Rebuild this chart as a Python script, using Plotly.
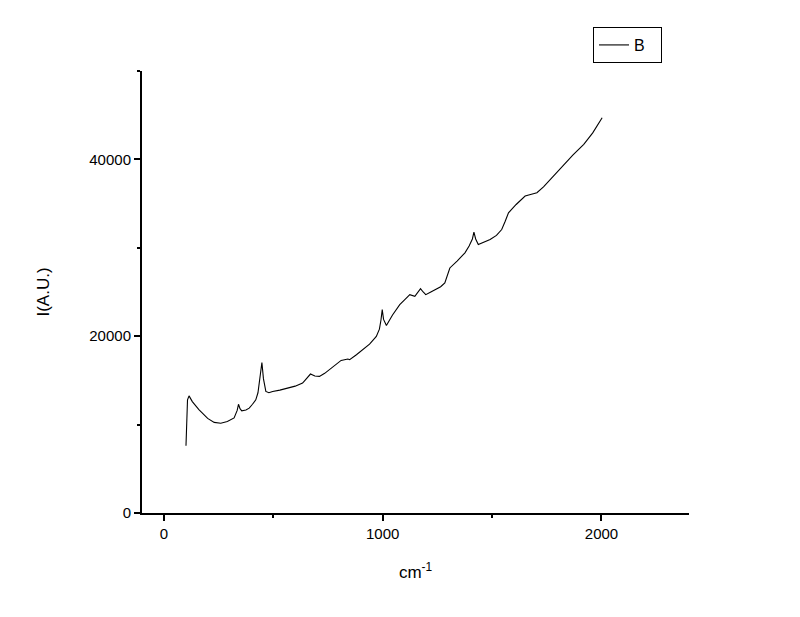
import plotly.graph_objects as go

wavenumber = [101, 104, 108, 115, 130, 160, 200, 230, 260, 290, 321, 335, 341, 348, 356, 375, 390, 405, 420,
              430, 440, 448, 455, 466, 480, 497, 530, 573, 600, 634, 655, 670, 690, 711, 735, 757, 785, 810,
              841, 849, 880, 910, 940, 971, 985, 992, 998, 1004, 1017, 1045, 1078, 1100, 1124, 1147, 1160,
              1173, 1185, 1197, 1220, 1246, 1265, 1284, 1307, 1340, 1376, 1395, 1410, 1417, 1425, 1437, 1460,
              1491, 1520, 1544, 1560, 1575, 1610, 1651, 1680, 1705, 1735, 1766, 1800, 1827, 1870, 1919, 1960,
              2003]
intensity = [7600, 10500, 12800, 13250, 12600, 11700, 10700, 10250, 10160, 10350, 10760, 11600, 12300, 11800,
             11560, 11650, 11860, 12300, 12800, 13600, 15200, 17030, 15200, 13750, 13600, 13750, 13900, 14130,
             14350, 14700, 15300, 15720, 15500, 15450, 15800, 16200, 16700, 17260, 17420, 17340, 17900, 18470,
             19100, 19980, 20800, 21800, 23000, 21900, 21220, 22400, 23570, 24100, 24700, 24510, 24900, 25380,
             25000, 24700, 25000, 25350, 25600, 26030, 27720, 28500, 29430, 30200, 31000, 31770, 31000, 30370,
             30600, 30930, 31400, 32070, 33000, 33960, 34900, 35850, 36050, 36230, 36900, 37730, 38600, 39430,
             40500, 41700, 43000, 44720]

fig = go.Figure()
fig.add_trace(go.Scatter(x=wavenumber, y=intensity, mode="lines", name="B",
                         line=dict(color="black", width=1.1)))

font = dict(family="Arial, Liberation Sans, sans-serif", size=15, color="black")

fig.update_layout(
    width=800, height=617,
    margin=dict(l=134, r=119, t=63, b=112, autoexpand=False),
    paper_bgcolor="white", plot_bgcolor="white",
    font=font,
    showlegend=True,
    legend=dict(x=0.8245, y=1.0995, xanchor="left", yanchor="top", orientation="h",
                entrywidth=22, entrywidthmode="pixels",
                bordercolor="black", borderwidth=1, bgcolor="white",
                font=dict(family="Arial, Liberation Sans, sans-serif", size=16, color="black"),
                itemwidth=30),
    xaxis=dict(range=[-100, 2400], tickvals=[0, 1000, 2000], tickformat="d", ticks="outside", ticklen=6,
               tickwidth=2, tickcolor="black", showline=True, linecolor="black", linewidth=2, showgrid=False,
               zeroline=False, automargin=False,
               minor=dict(tickvals=[500, 1500], ticks="outside", ticklen=3, tickwidth=2,
                          tickcolor="black", showgrid=False),
               title=dict(text="cm<sup>-1</sup>", font=dict(size=17), standoff=25)),
    yaxis=dict(range=[0, 50000], tickvals=[0, 20000, 40000], tickformat="d", ticks="outside", ticklen=6,
               tickwidth=2, tickcolor="black", showline=True, linecolor="black", linewidth=2, showgrid=False,
               zeroline=False, automargin=False,
               minor=dict(tickvals=[10000, 30000, 50000], ticks="outside", ticklen=3,
                          tickwidth=2, tickcolor="black", showgrid=False),
               title=dict(text="I(A.U.)", font=dict(size=17), standoff=35)),
)

fig.write_html("out.html")
